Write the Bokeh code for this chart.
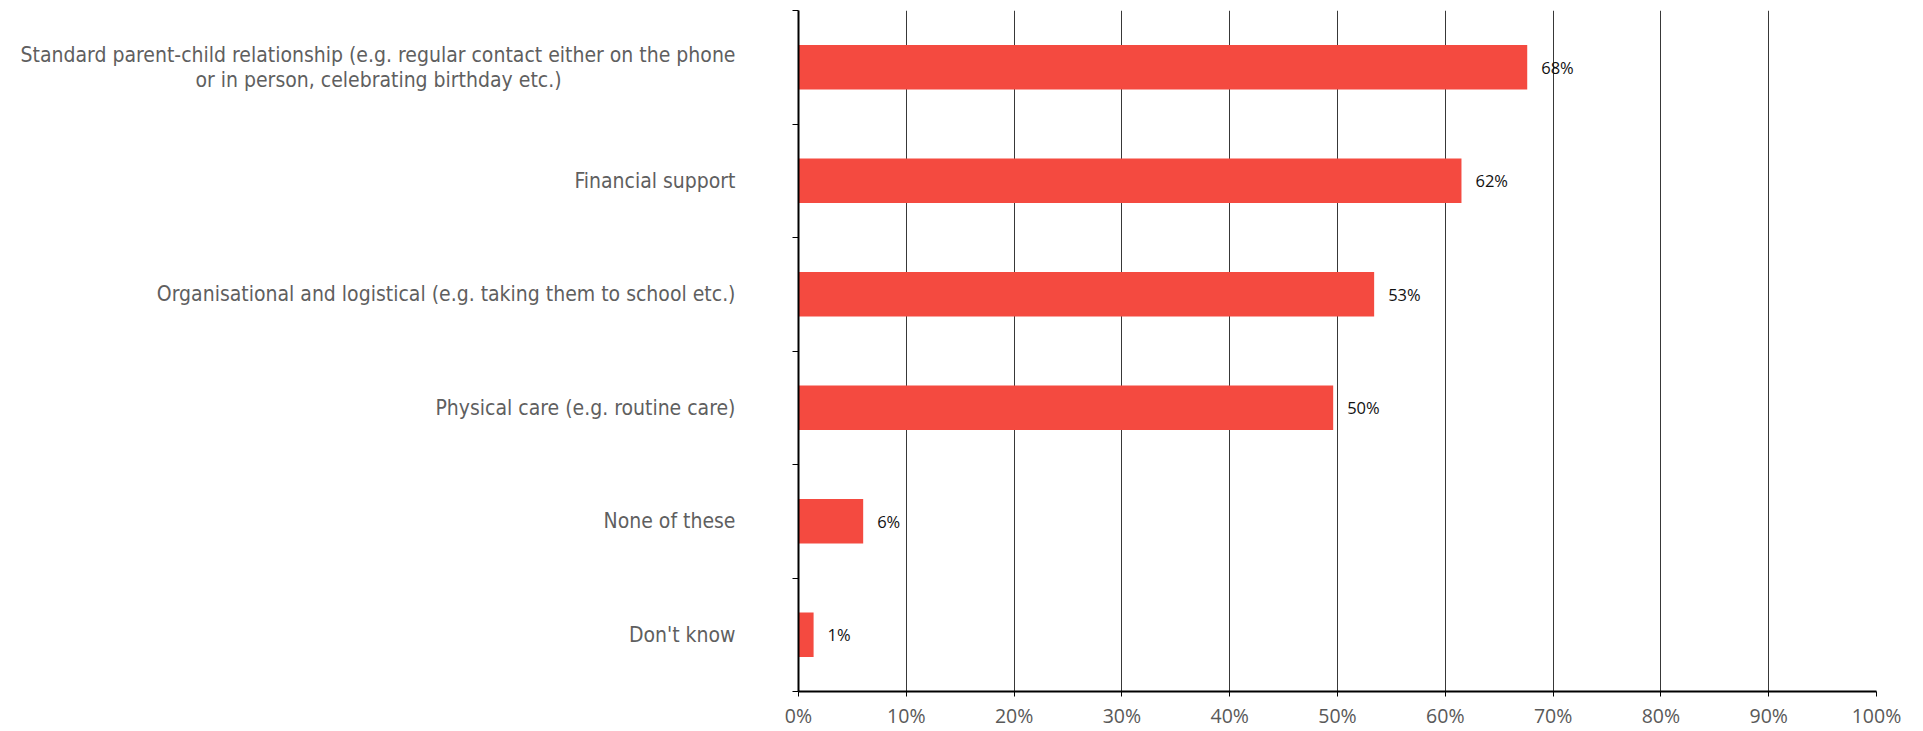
from bokeh.plotting import figure
from bokeh.models import ColumnDataSource, FixedTicker, NumeralTickFormatter, Range1d
from bokeh.core.properties import value
from bokeh.embed import file_html
from bokeh.resources import INLINE

NB = "\u00a0"
categories = [
    "Standard parent-child relationship (e.g. regular contact either on the phone\n"
    "or in person, celebrating birthday etc.)" + NB * 29,
    "Financial support",
    "Organisational and logistical (e.g. taking them to school etc.)",
    "Physical care (e.g. routine care)",
    "None of these",
    "Don't know",
]
values = [0.676, 0.615, 0.534, 0.496, 0.060, 0.014]
value_labels = ["68%", "62%", "53%", "50%", "6%", "1%"]
x_ticks = [0.0, 0.1, 0.2, 0.3, 0.4, 0.5, 0.6, 0.7, 0.8, 0.9, 1.0]

n = len(categories)
ypos = [n - i - 0.5 for i in range(n)]

src = ColumnDataSource(dict(y=ypos, v=values, lab=value_labels))

CAT_FONT = "DejaVu Sans Condensed"
NUM_FONT = "Open Sans"
W, H = 1908, 731
p = figure(width=W, height=H, output_backend="svg", toolbar_location=None,
           x_range=Range1d(0, 1), y_range=Range1d(0, n),
           min_border_left=798, min_border_right=32,
           min_border_top=10, min_border_bottom=30)
p.outline_line_color = None

p.hbar(y="y", right="v", left=0, height=0.39, source=src,
       fill_color="#F44A40", line_color=None)
p.text(x="v", y="y", text="lab", source=src, x_offset=14,
       text_baseline="middle", text_align="left",
       text_font=value(NUM_FONT), text_font_size="16.5px", text_color="#111111")

# x axis
p.xaxis.ticker = FixedTicker(ticks=x_ticks)
p.xaxis.formatter = NumeralTickFormatter(format="0%")
p.xaxis.axis_line_color = "black"
p.xaxis.axis_line_width = 2
p.xaxis.major_tick_line_color = "black"
p.xaxis.major_tick_out = 5
p.xaxis.major_tick_in = 0
p.xaxis.minor_tick_line_color = None
p.xaxis.major_label_text_font = NUM_FONT
p.xaxis.major_label_text_font_size = "19.5px"
p.xaxis.major_label_text_color = "#595959"
p.xaxis.major_label_standoff = 5

# y axis
p.yaxis.ticker = FixedTicker(ticks=ypos, minor_ticks=list(range(n + 1)))
p.yaxis.major_label_overrides = {y: c for y, c in zip(ypos, categories)}
p.yaxis.axis_line_color = "black"
p.yaxis.axis_line_width = 2
p.yaxis.major_tick_line_color = None
p.yaxis.minor_tick_line_color = "black"
p.yaxis.minor_tick_out = 6
p.yaxis.minor_tick_in = 0
p.yaxis.major_label_text_font = CAT_FONT
p.yaxis.major_label_text_font_size = "21px"
p.yaxis.major_label_text_line_height = 1.05
p.yaxis.major_label_text_color = "#5f5f5f"
p.yaxis.major_label_standoff = 57

p.xgrid.ticker = FixedTicker(ticks=x_ticks)
p.xgrid.grid_line_color = "#383838"
p.xgrid.grid_line_width = 1
p.ygrid.grid_line_color = None

open("out.html", "w").write(file_html(p, INLINE))
